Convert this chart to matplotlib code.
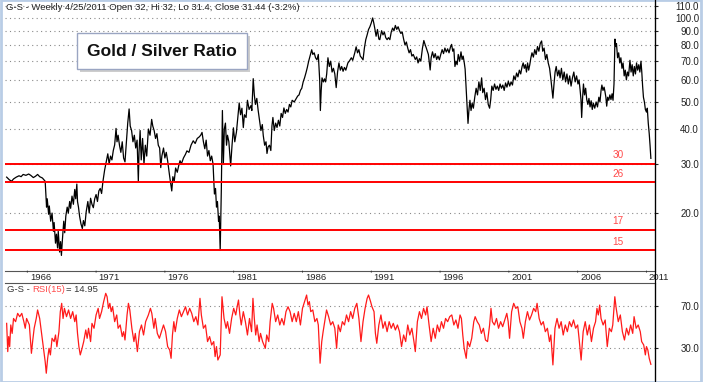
import matplotlib
matplotlib.use("Agg")
import matplotlib.pyplot as plt
from matplotlib.patches import Rectangle
from matplotlib.lines import Line2D
from matplotlib.ticker import FixedLocator, FixedFormatter, NullLocator

plt.rcParams['font.family'] = ['Liberation Sans', 'DejaVu Sans']

# Gold / silver ratio (fractional year, ratio)
ratio_years = [
    1964.50, 1964.70, 1964.86, 1965.00, 1965.20, 1965.40, 1965.55, 1965.70, 1965.90, 1966.10,
    1966.25, 1966.44, 1966.60, 1966.75, 1966.90, 1967.10, 1967.30, 1967.40, 1967.45, 1967.55,
    1967.60, 1967.70, 1967.80, 1967.90, 1967.95, 1968.05, 1968.12, 1968.20, 1968.25, 1968.35,
    1968.42, 1968.48, 1968.55, 1968.65, 1968.72, 1968.80, 1968.90, 1968.98, 1969.08, 1969.15,
    1969.25, 1969.35, 1969.45, 1969.52, 1969.60, 1969.65, 1969.72, 1969.80, 1969.90, 1970.00,
    1970.08, 1970.18, 1970.28, 1970.40, 1970.50, 1970.60, 1970.70, 1970.80, 1970.90, 1971.00,
    1971.10, 1971.20, 1971.30, 1971.40, 1971.50, 1971.62, 1971.75, 1971.85, 1971.95, 1972.05,
    1972.15, 1972.25, 1972.35, 1972.45, 1972.52, 1972.60, 1972.70, 1972.80, 1972.90, 1973.00,
    1973.10, 1973.20, 1973.30, 1973.40, 1973.48, 1973.58, 1973.68, 1973.78, 1973.88, 1973.98,
    1974.07, 1974.12, 1974.20, 1974.28, 1974.38, 1974.48, 1974.58, 1974.68, 1974.80, 1974.92,
    1975.04, 1975.12, 1975.22, 1975.32, 1975.42, 1975.52, 1975.62, 1975.70, 1975.78, 1975.90,
    1976.00, 1976.10, 1976.20, 1976.35, 1976.50, 1976.58, 1976.68, 1976.78, 1976.90, 1977.00,
    1977.10, 1977.20, 1977.35, 1977.50, 1977.60, 1977.75, 1977.90, 1978.06, 1978.20, 1978.35,
    1978.50, 1978.60, 1978.70, 1978.80, 1978.90, 1979.00, 1979.10, 1979.20, 1979.30, 1979.40,
    1979.50, 1979.60, 1979.68, 1979.75, 1979.82, 1979.90, 1979.95, 1980.02, 1980.10, 1980.18,
    1980.25, 1980.32, 1980.40, 1980.48, 1980.55, 1980.65, 1980.78, 1980.88, 1980.98, 1981.08,
    1981.20, 1981.30, 1981.40, 1981.50, 1981.60, 1981.70, 1981.78, 1981.90, 1982.00, 1982.12,
    1982.25, 1982.32, 1982.42, 1982.50, 1982.58, 1982.68, 1982.78, 1982.88, 1982.98, 1983.08,
    1983.15, 1983.25, 1983.35, 1983.42, 1983.50, 1983.60, 1983.70, 1983.78, 1983.85, 1983.95,
    1984.05, 1984.15, 1984.25, 1984.35, 1984.45, 1984.55, 1984.65, 1984.75, 1984.85, 1984.95,
    1985.05, 1985.15, 1985.25, 1985.40, 1985.55, 1985.65, 1985.75, 1985.85, 1985.95, 1986.05,
    1986.15, 1986.25, 1986.35, 1986.45, 1986.55, 1986.67, 1986.75, 1986.85, 1986.95, 1987.05,
    1987.15, 1987.25, 1987.30, 1987.36, 1987.42, 1987.52, 1987.60, 1987.68, 1987.76, 1987.85,
    1987.95, 1988.05, 1988.15, 1988.25, 1988.35, 1988.45, 1988.55, 1988.65, 1988.75, 1988.85,
    1988.95, 1989.05, 1989.15, 1989.30, 1989.40, 1989.55, 1989.65, 1989.80, 1989.90, 1990.00,
    1990.10, 1990.20, 1990.30, 1990.40, 1990.50, 1990.60, 1990.70, 1990.80, 1990.90, 1991.00,
    1991.10, 1991.18, 1991.25, 1991.35, 1991.45, 1991.55, 1991.62, 1991.75, 1991.85, 1991.95,
    1992.05, 1992.15, 1992.25, 1992.35, 1992.45, 1992.55, 1992.65, 1992.75, 1992.85, 1992.95,
    1993.05, 1993.15, 1993.25, 1993.35, 1993.45, 1993.55, 1993.65, 1993.75, 1993.85, 1993.95,
    1994.05, 1994.20, 1994.30, 1994.40, 1994.50, 1994.60, 1994.72, 1994.82, 1994.92, 1995.00,
    1995.15, 1995.28, 1995.35, 1995.45, 1995.55, 1995.65, 1995.75, 1995.85, 1995.95, 1996.05,
    1996.15, 1996.25, 1996.35, 1996.45, 1996.55, 1996.65, 1996.75, 1996.84, 1996.92, 1997.00,
    1997.08, 1997.16, 1997.24, 1997.32, 1997.42, 1997.52, 1997.60, 1997.68, 1997.76, 1997.82,
    1997.90, 1997.96, 1998.03, 1998.10, 1998.17, 1998.25, 1998.33, 1998.42, 1998.52, 1998.62,
    1998.72, 1998.82, 1998.92, 1999.02, 1999.10, 1999.20, 1999.30, 1999.40, 1999.50, 1999.60,
    1999.68, 1999.76, 1999.86, 1999.96, 2000.06, 2000.16, 2000.26, 2000.36, 2000.46, 2000.56,
    2000.66, 2000.76, 2000.86, 2000.96, 2001.06, 2001.16, 2001.26, 2001.36, 2001.46, 2001.56,
    2001.66, 2001.76, 2001.86, 2001.96, 2002.04, 2002.12, 2002.20, 2002.28, 2002.36, 2002.44,
    2002.52, 2002.60, 2002.68, 2002.78, 2002.88, 2002.98, 2003.08, 2003.18, 2003.28, 2003.38,
    2003.46, 2003.56, 2003.66, 2003.76, 2003.86, 2003.96, 2004.06, 2004.14, 2004.20, 2004.28,
    2004.36, 2004.44, 2004.54, 2004.64, 2004.72, 2004.82, 2004.92, 2005.02, 2005.12, 2005.22,
    2005.32, 2005.42, 2005.52, 2005.62, 2005.72, 2005.82, 2005.92, 2006.02, 2006.10, 2006.18,
    2006.24, 2006.29, 2006.36, 2006.42, 2006.50, 2006.58, 2006.66, 2006.74, 2006.82, 2006.90,
    2006.98, 2007.06, 2007.14, 2007.24, 2007.34, 2007.44, 2007.54, 2007.62, 2007.70, 2007.76,
    2007.84, 2007.92, 2007.98, 2008.05, 2008.11, 2008.18, 2008.26, 2008.34, 2008.42, 2008.50,
    2008.57, 2008.64, 2008.71, 2008.76, 2008.82, 2008.90, 2008.98, 2009.06, 2009.14, 2009.22,
    2009.30, 2009.38, 2009.46, 2009.54, 2009.62, 2009.70, 2009.80, 2009.88, 2009.96, 2010.04,
    2010.12, 2010.20, 2010.28, 2010.36, 2010.44, 2010.52, 2010.60, 2010.66, 2010.72, 2010.78,
    2010.85, 2010.92, 2011.00, 2011.06, 2011.13, 2011.20, 2011.26, 2011.32,
]
ratio_values = [
    26.9, 26.3, 26.0, 26.5, 26.9, 27.2, 27.0, 27.5, 27.3, 27.6,
    27.3, 26.8, 27.1, 27.5, 27.0, 26.7, 26.0, 21.0, 22.5, 19.8,
    21.2, 18.7, 20.0, 17.2, 18.5, 15.6, 16.8, 15.0, 17.2, 14.5,
    15.8, 14.1, 16.0, 18.7, 17.0, 19.5, 21.0, 20.0, 22.0, 20.8,
    23.0, 21.5, 24.3, 22.5, 25.4, 22.0, 21.0, 19.5, 18.3, 17.6,
    18.8, 18.0, 20.2, 22.0, 20.0, 22.6, 21.5, 20.9, 22.5, 23.3,
    22.0, 24.0, 24.5, 23.5, 26.0, 28.5, 30.8, 32.6, 30.0, 32.0,
    31.0, 33.5, 35.1, 40.2, 36.0, 38.0, 35.0, 33.0, 36.0, 31.5,
    30.5, 36.0, 42.0, 47.2, 41.0, 39.5, 36.0, 38.0, 34.2, 36.5,
    26.0, 33.0, 39.5, 31.0, 37.0, 30.0, 35.0, 32.0, 40.0, 38.0,
    43.3, 41.0, 39.5, 37.0, 38.5, 35.0, 34.2, 29.1, 32.0, 34.2,
    31.5, 33.0, 30.8, 27.0, 24.0, 27.0, 26.0, 29.0, 28.0, 29.5,
    30.8, 30.0, 31.5, 32.5, 33.4, 33.0, 35.0, 36.3, 35.5, 37.0,
    37.5, 38.0, 38.9, 36.0, 34.0, 36.5, 32.0, 33.5, 30.8, 32.0,
    30.0, 23.4, 24.5, 21.0, 22.0, 18.7, 19.5, 14.7, 24.0, 46.6,
    30.0, 40.0, 42.0, 35.0, 38.0, 36.0, 29.5, 35.0, 40.4, 36.0,
    39.0, 44.0, 49.6, 45.0, 47.5, 40.5, 45.0, 44.0, 50.7, 47.0,
    48.5, 46.6, 60.6, 53.0, 49.0, 51.5, 46.6, 43.0, 39.5, 41.5,
    37.9, 35.0, 36.0, 32.7, 34.5, 35.0, 33.5, 41.0, 44.0, 39.5,
    42.0, 40.5, 43.0, 41.0, 45.5, 44.0, 47.6, 45.5, 47.0, 46.0,
    49.0, 48.0, 50.7, 50.0, 51.5, 52.5, 53.0, 55.0, 56.0, 59.0,
    61.0, 63.5, 66.4, 70.0, 73.0, 76.9, 74.0, 75.0, 72.0, 70.8,
    74.0, 60.0, 46.6, 55.0, 61.0, 59.0, 60.5, 59.0, 63.0, 72.0,
    67.0, 70.0, 64.0, 66.0, 63.0, 56.3, 64.0, 69.0, 65.0, 67.0,
    64.4, 66.5, 65.0, 69.0, 70.0, 72.0, 70.5, 75.0, 78.8, 75.0,
    77.0, 73.0, 72.0, 70.8, 78.0, 83.6, 87.0, 90.9, 93.0, 96.0,
    100.0, 96.0, 92.0, 86.0, 90.9, 84.0, 83.6, 90.0, 87.0, 89.0,
    85.0, 83.6, 85.0, 83.6, 89.0, 92.0, 90.0, 94.0, 91.0, 93.0,
    90.0, 88.0, 89.0, 84.0, 80.0, 82.0, 78.0, 75.0, 77.0, 73.0,
    74.0, 71.0, 72.5, 69.0, 71.5, 70.0, 78.0, 83.0, 80.0, 78.0,
    74.0, 65.1, 72.0, 75.6, 72.0, 74.5, 71.0, 73.0, 70.8, 74.0,
    77.0, 74.5, 78.0, 75.5, 77.5, 75.0, 78.5, 80.4, 76.0, 77.5,
    67.0, 70.0, 68.0, 74.0, 70.0, 75.6, 71.0, 73.0, 69.0, 65.6,
    55.0, 48.0, 41.9, 47.0, 50.7, 46.6, 49.5, 47.5, 52.0, 56.0,
    53.0, 59.0, 55.0, 61.0, 54.0, 56.0, 51.0, 54.0, 49.0, 47.5,
    51.0, 57.0, 55.0, 58.0, 55.5, 57.0, 55.0, 58.0, 56.0, 57.5,
    55.0, 58.5, 56.5, 59.3, 57.0, 59.0, 57.5, 62.0, 60.0, 63.5,
    61.5, 65.0, 63.0, 67.0, 69.0, 66.0, 68.0, 64.0, 69.0, 65.0,
    68.0, 72.0, 75.0, 72.4, 77.0, 74.0, 79.0, 76.0, 81.0, 82.7,
    76.0, 78.0, 71.0, 74.0, 69.0, 66.0, 60.0, 55.0, 51.6, 58.0,
    64.0, 67.0, 62.0, 65.0, 61.0, 66.0, 60.0, 64.0, 59.0, 63.0,
    58.0, 62.0, 57.0, 61.0, 64.0, 59.0, 62.0, 58.0, 60.0, 55.0,
    51.0, 44.0, 52.0, 58.0, 53.0, 56.0, 51.0, 49.0, 51.5, 48.0,
    50.5, 47.0, 49.5, 47.5, 50.0, 48.0, 52.0, 50.0, 55.0, 57.5,
    55.0, 56.5, 54.6, 52.0, 48.3, 52.0, 50.7, 53.0, 51.0, 53.5,
    50.7, 58.0, 84.0, 79.0, 81.0, 72.0, 75.0, 69.0, 72.0, 66.0,
    69.0, 62.0, 65.0, 60.0, 64.0, 62.0, 70.5, 64.0, 68.0, 62.0,
    67.0, 63.0, 69.0, 65.0, 68.0, 64.0, 70.0, 64.0, 57.0, 52.0,
    50.0, 47.0, 46.0, 47.5, 42.0, 38.5, 35.0, 31.4,
]

# RSI(15) of the ratio
rsi_years = [
    1964.50, 1964.58, 1964.65, 1964.72, 1964.80, 1964.90, 1965.00, 1965.15, 1965.30, 1965.45,
    1965.60, 1965.75, 1965.85, 1965.95, 1966.15, 1966.30, 1966.40, 1966.50, 1966.65, 1966.75,
    1966.90, 1967.05, 1967.15, 1967.30, 1967.38, 1967.48, 1967.58, 1967.68, 1967.80, 1967.95,
    1968.05, 1968.15, 1968.30, 1968.40, 1968.50, 1968.60, 1968.70, 1968.85, 1969.00, 1969.15,
    1969.30, 1969.45, 1969.55, 1969.65, 1969.75, 1969.85, 1969.95, 1970.10, 1970.25, 1970.35,
    1970.45, 1970.60, 1970.70, 1970.85, 1971.00, 1971.15, 1971.25, 1971.40, 1971.55, 1971.70,
    1971.80, 1971.90, 1972.00, 1972.10, 1972.20, 1972.35, 1972.50, 1972.60, 1972.75, 1972.90,
    1973.00, 1973.10, 1973.25, 1973.35, 1973.45, 1973.60, 1973.75, 1973.85, 1974.00, 1974.15,
    1974.30, 1974.45, 1974.60, 1974.80, 1974.95, 1975.05, 1975.20, 1975.30, 1975.45, 1975.60,
    1975.75, 1975.90, 1976.05, 1976.20, 1976.35, 1976.45, 1976.55, 1976.65, 1976.75, 1976.90,
    1977.05, 1977.20, 1977.35, 1977.50, 1977.65, 1977.80, 1977.95, 1978.10, 1978.25, 1978.40,
    1978.55, 1978.65, 1978.80, 1978.95, 1979.10, 1979.25, 1979.40, 1979.55, 1979.65, 1979.75,
    1979.85, 1980.02, 1980.15, 1980.30, 1980.45, 1980.55, 1980.70, 1980.85, 1981.00, 1981.15,
    1981.25, 1981.35, 1981.45, 1981.55, 1981.70, 1981.85, 1982.00, 1982.15, 1982.30, 1982.40,
    1982.50, 1982.60, 1982.70, 1982.85, 1982.95, 1983.10, 1983.30, 1983.40, 1983.55, 1983.65,
    1983.80, 1983.90, 1984.05, 1984.20, 1984.35, 1984.50, 1984.65, 1984.80, 1984.95, 1985.10,
    1985.25, 1985.40, 1985.55, 1985.70, 1985.85, 1986.00, 1986.15, 1986.30, 1986.40, 1986.50,
    1986.60, 1986.75, 1986.90, 1987.05, 1987.15, 1987.28, 1987.40, 1987.50, 1987.65, 1987.75,
    1987.90, 1988.05, 1988.20, 1988.35, 1988.48, 1988.60, 1988.75, 1988.90, 1989.05, 1989.20,
    1989.35, 1989.50, 1989.65, 1989.80, 1989.95, 1990.10, 1990.25, 1990.40, 1990.55, 1990.70,
    1990.80, 1990.95, 1991.05, 1991.20, 1991.30, 1991.40, 1991.55, 1991.70, 1991.85, 1992.00,
    1992.15, 1992.30, 1992.45, 1992.60, 1992.75, 1992.90, 1993.05, 1993.20, 1993.35, 1993.50,
    1993.65, 1993.80, 1993.95, 1994.10, 1994.20, 1994.35, 1994.50, 1994.65, 1994.80, 1994.95,
    1995.05, 1995.20, 1995.35, 1995.50, 1995.65, 1995.80, 1995.95, 1996.10, 1996.25, 1996.40,
    1996.55, 1996.70, 1996.85, 1997.00, 1997.15, 1997.30, 1997.45, 1997.55, 1997.65, 1997.75,
    1997.90, 1998.00, 1998.15, 1998.30, 1998.45, 1998.55, 1998.70, 1998.85, 1999.00, 1999.15,
    1999.30, 1999.45, 1999.60, 1999.70, 1999.80, 1999.95, 2000.10, 2000.25, 2000.40, 2000.55,
    2000.70, 2000.85, 2000.95, 2001.05, 2001.20, 2001.35, 2001.50, 2001.65, 2001.80, 2001.95,
    2002.05, 2002.20, 2002.35, 2002.50, 2002.65, 2002.80, 2002.95, 2003.05, 2003.20, 2003.35,
    2003.50, 2003.65, 2003.80, 2003.95, 2004.05, 2004.20, 2004.35, 2004.50, 2004.65, 2004.80,
    2004.95, 2005.10, 2005.25, 2005.40, 2005.55, 2005.70, 2005.85, 2006.00, 2006.10, 2006.25,
    2006.40, 2006.55, 2006.70, 2006.85, 2007.00, 2007.15, 2007.30, 2007.40, 2007.50, 2007.60,
    2007.70, 2007.85, 2008.00, 2008.15, 2008.30, 2008.45, 2008.55, 2008.70, 2008.80, 2008.95,
    2009.10, 2009.25, 2009.40, 2009.55, 2009.70, 2009.85, 2010.00, 2010.10, 2010.25, 2010.40,
    2010.55, 2010.65, 2010.80, 2010.92, 2011.00, 2011.10, 2011.20, 2011.32,
]
rsi_values = [
    53.4, 26.9, 41.0, 31.6, 51.9, 44.0, 58.0, 55.0, 62.8, 59.7,
    62.8, 55.0, 48.8, 58.0, 52.0, 25.3, 37.8, 48.8, 58.0, 66.0,
    58.0, 42.5, 31.6, 17.5, 6.6, 20.6, 30.0, 23.8, 39.4, 36.3,
    42.5, 31.6, 45.6, 64.4, 72.2, 58.0, 67.5, 59.7, 66.0, 58.0,
    64.4, 55.0, 61.3, 44.0, 31.6, 23.8, 28.4, 36.3, 47.2, 39.4,
    48.8, 36.3, 53.4, 48.8, 61.3, 67.5, 58.0, 64.4, 73.8, 81.6,
    78.4, 67.5, 72.2, 64.4, 69.0, 55.0, 61.3, 48.8, 51.9, 41.0,
    45.6, 37.8, 61.3, 72.2, 66.0, 48.8, 36.3, 44.0, 26.9, 45.6,
    51.9, 42.5, 55.0, 61.3, 67.5, 62.8, 48.8, 58.0, 44.0, 39.4,
    45.6, 51.9, 45.6, 31.6, 28.4, 20.6, 42.5, 55.0, 45.6, 58.0,
    66.0, 59.7, 64.4, 69.0, 61.3, 67.5, 62.8, 55.0, 59.7, 51.9,
    76.9, 61.3, 48.8, 51.9, 36.3, 41.0, 33.1, 36.3, 22.2, 31.6,
    19.0, 23.8, 78.4, 58.0, 48.8, 55.0, 44.0, 58.0, 67.5, 61.3,
    69.0, 75.3, 61.3, 51.9, 64.4, 55.0, 42.5, 58.0, 45.6, 76.9,
    58.0, 42.5, 51.9, 36.3, 44.0, 36.3, 30.0, 42.5, 36.3, 55.0,
    72.2, 67.5, 55.0, 61.3, 51.9, 58.0, 51.9, 64.4, 69.0, 64.4,
    55.0, 62.8, 55.0, 64.4, 51.9, 67.5, 73.8, 80.0, 70.6, 73.8,
    64.4, 66.0, 55.0, 58.0, 51.9, 16.0, 36.3, 45.6, 58.0, 66.0,
    59.7, 51.9, 55.0, 48.8, 30.0, 51.9, 45.6, 55.0, 51.9, 61.3,
    55.0, 64.4, 58.0, 67.5, 72.2, 58.0, 36.3, 55.0, 67.5, 76.9,
    80.0, 73.8, 69.0, 64.4, 44.0, 34.7, 51.9, 61.3, 48.8, 55.0,
    45.6, 55.0, 48.8, 53.4, 47.2, 51.9, 45.6, 31.6, 42.5, 36.3,
    51.9, 42.5, 48.8, 36.3, 26.9, 55.0, 64.4, 58.0, 67.5, 61.3,
    69.0, 51.9, 36.3, 48.8, 39.4, 51.9, 45.6, 55.0, 48.8, 58.0,
    55.0, 59.7, 61.3, 51.9, 56.6, 48.8, 61.3, 58.0, 42.5, 30.0,
    20.6, 36.3, 31.6, 39.4, 55.0, 59.7, 55.0, 51.9, 44.0, 48.8,
    37.8, 36.3, 51.9, 67.5, 55.0, 51.9, 58.0, 48.8, 55.0, 50.3,
    56.6, 62.8, 55.0, 39.4, 64.4, 72.2, 67.5, 69.0, 55.0, 48.8,
    39.4, 55.0, 64.4, 56.6, 61.3, 67.5, 64.4, 72.2, 58.0, 51.9,
    55.0, 45.6, 48.8, 36.3, 42.5, 14.4, 48.8, 58.0, 48.8, 55.0,
    42.5, 51.9, 45.6, 55.0, 50.3, 56.6, 48.8, 51.9, 39.4, 19.0,
    45.6, 55.0, 42.5, 51.9, 36.3, 48.8, 55.0, 67.5, 61.3, 70.6,
    58.0, 51.9, 56.6, 31.6, 48.8, 45.6, 51.9, 78.4, 67.5, 55.0,
    61.3, 45.6, 37.8, 48.8, 42.5, 51.9, 44.0, 59.7, 48.8, 51.9,
    45.6, 36.3, 33.1, 23.8, 31.6, 28.4, 20.6, 14.95,
]

level_values = [30, 25.8, 17.4, 14.7]
level_labels = ['30', '26', '17', '15']

price_ticks = [110, 100, 90, 80, 70, 60, 50, 40, 30, 20]
rsi_ticks = [70, 30]
year_ticks = [1966, 1971, 1976, 1981, 1986, 1991, 1996, 2001, 2006, 2011]

W, H = 703, 382
fig = plt.figure(figsize=(W / 100, H / 100), dpi=100)

x_left, x_right = 1964.38, 2011.62
right_pad = 29.5  # pt, puts right-aligned labels near the image edge
small = 6.8

# ---- price panel
ax = fig.add_axes([5 / W, 1 - 271 / H, 650 / W, 270 / H])
ax.plot(ratio_years, ratio_values, color='black', lw=0.9)
for lv, lab in zip(level_values, level_labels):
    ax.axhline(lv, color='#ff0000', lw=1.4, zorder=3)
    ax.annotate(lab, xy=(2008.93, lv), xytext=(0, 2.5), textcoords='offset points',
                ha='center', va='bottom', color='#ff4a4a', fontsize=7.2)
ax.set_yscale('log')
ax.set_ylim(12.4, 115)
ax.set_xlim(x_left, x_right)
ax.yaxis.set_major_locator(FixedLocator(price_ticks))
ax.yaxis.set_major_formatter(FixedFormatter([f'{t:.1f}' for t in price_ticks]))
ax.yaxis.set_minor_locator(NullLocator())
ax.yaxis.tick_right()
ax.tick_params(axis='y', which='major', length=2.2, width=0.8, pad=right_pad,
               labelsize=7, colors='#222')
for lbl in ax.get_yticklabels():
    lbl.set_horizontalalignment('right')
ax.grid(True, axis='y', linestyle=(0, (1, 3)), color='#8a8a8a', lw=0.8)
ax.set_xticks([])
for yr in year_ticks:
    ax.annotate('', xy=(yr, 0), xycoords=('data', 'axes fraction'),
                xytext=(yr, -4 / 270), textcoords=('data', 'axes fraction'),
                arrowprops=dict(arrowstyle='-', color='#333', lw=0.7))
    ax.annotate(str(yr), xy=(yr, 0), xycoords=('data', 'axes fraction'),
                xytext=(1.8, -1.2), textcoords='offset points',
                ha='left', va='top', fontsize=small, color='#222', annotation_clip=False)
for side in ['left', 'top']:
    ax.spines[side].set_visible(False)
ax.spines['bottom'].set_color('#555')
ax.spines['right'].set_color('black')

fig.text(6 / W, 1 - 8 / H,
         'G-S - Weekly 4/25/2011 Open 32, Hi 32, Lo 31.4, Close 31.44 (-3.2%)',
         fontsize=small, va='center', ha='left', color='#222')

# title box with drop shadow
fig.add_artist(Rectangle((80 / W, 1 - 72 / H), 170 / W, 36 / H, transform=fig.transFigure,
                         facecolor='#b8b8b8', edgecolor='none', alpha=0.7))
fig.add_artist(Rectangle((77 / W, 1 - 69 / H), 170 / W, 36 / H, transform=fig.transFigure,
                         facecolor='white', edgecolor='#9aa5c2', lw=1.0))
fig.text(162 / W, 1 - 51 / H, 'Gold / Silver Ratio', ha='center', va='center',
         fontsize=12.5, fontweight='bold', color='#111')

# ---- RSI panel
ax2 = fig.add_axes([5 / W, 1 / H, 650 / W, 98 / H])
ax2.plot(rsi_years, rsi_values, color='#ff1a1a', lw=0.9)
ax2.set_xlim(x_left, x_right)
ax2.set_ylim(-0.7, 91.3)
ax2.yaxis.set_major_locator(FixedLocator(rsi_ticks))
ax2.yaxis.set_major_formatter(FixedFormatter([f'{t:.1f}' for t in rsi_ticks]))
ax2.yaxis.tick_right()
ax2.tick_params(axis='y', length=2.2, width=0.8, pad=right_pad, labelsize=7, colors='#222')
for lbl in ax2.get_yticklabels():
    lbl.set_horizontalalignment('right')
ax2.grid(True, axis='y', linestyle=(0, (1, 3)), color='#8a8a8a', lw=0.8)
ax2.set_xticks([])
for side in ['left', 'bottom']:
    ax2.spines[side].set_visible(False)
ax2.spines['top'].set_color('#555')
ax2.spines['right'].set_color('black')

y_lab = 1 - 290 / H
fig.text(7 / W, y_lab, 'G-S - ', fontsize=small, va='center', color='#333')
fig.text(32 / W, y_lab, 'RSI(15)', fontsize=small, va='center', color='#ff4a4a')
fig.text(66 / W, y_lab, '= 14.95', fontsize=small, va='center', color='#333')

# right axis line through the gap, and light frame
fig.add_artist(Line2D([655 / W, 655 / W], [0, 1], transform=fig.transFigure, color='black', lw=0.9))
fig.add_artist(Rectangle((1 / W, 0), (W - 3) / W, 1, transform=fig.transFigure,
                         facecolor='none', edgecolor='#b9cde6', lw=2.0))

fig.savefig('out.png', dpi=100)
